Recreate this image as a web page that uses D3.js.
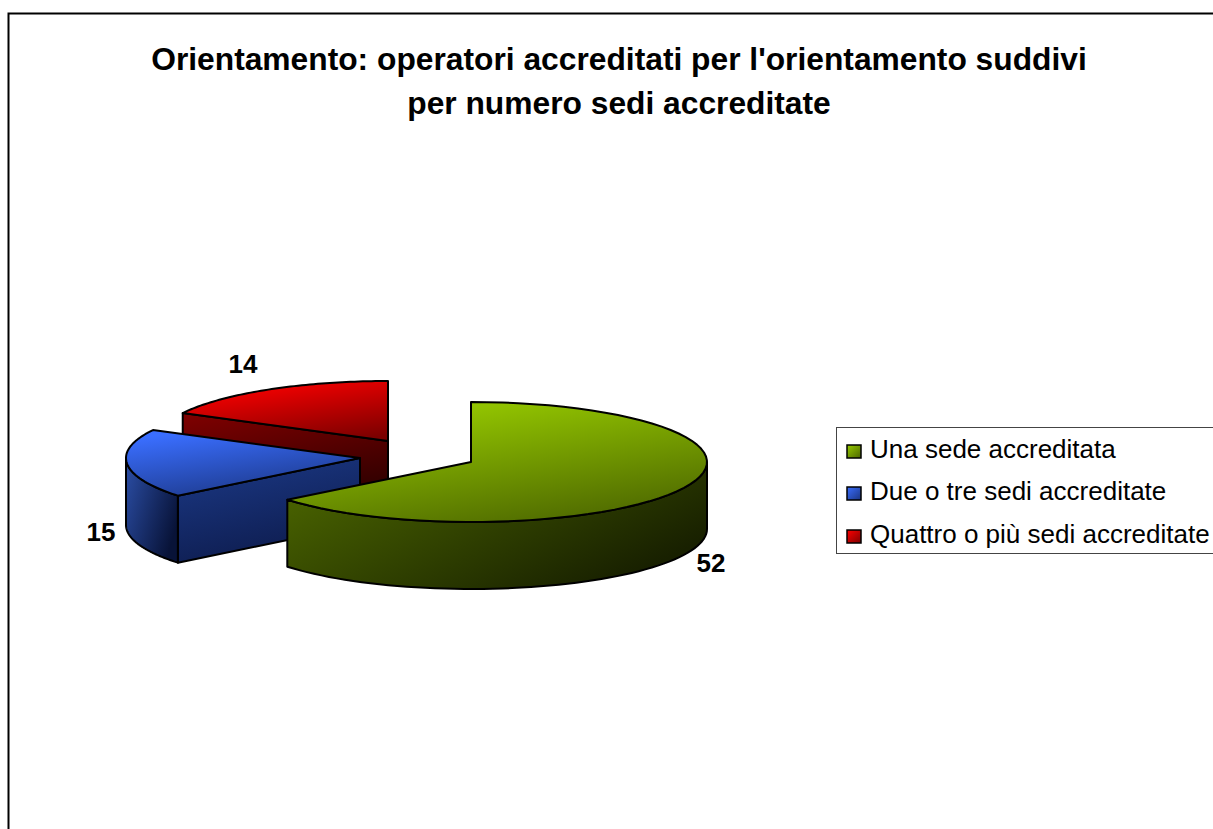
<!DOCTYPE html>
<html>
<head>
<meta charset="utf-8">
<script src="https://d3js.org/d3.v7.min.js"></script>
<style>
  html, body { margin: 0; background: #fff; overflow: hidden; }
  text { font-family: "Liberation Sans", Arial, sans-serif; fill: #000; }
</style>
</head>
<body>
<script>
const categories = ["Una sede accreditata", "Due o tre sedi accreditate", "Quattro o più sedi accreditate"];
const values = [52, 15, 14];
const titleLines = ["Orientamento: operatori accreditati per l'orientamento suddivi", "per numero sedi accreditate"];

const w = 1213;
const h = 829;
const ry = 60;
const depth = 67;

// slice apex on screen, the pie is exploded
const apexes = [[471, 462], [360, 458], [388, 441]];
const radii = [236, 234, 232];
const labelPos = [[711, 572], [101, 541], [243, 373]];
const legendY = [450, 492, 535];

const topColors = [["#98cc00", "#4c6600"], ["#3a6eff", "#1a3480"], ["#ff0000", "#7c0000"]];
const sideColors = [["#4f6b00", "#182000"], ["#2c4fa8", "#081338"], ["#800000", "#300000"]];
const flatColors = [null, ["#1c3a88", "#0e1d50"], ["#800000", "#300000"]];

const svg = d3.select("body").append("svg")
  .attr("width", w)
  .attr("height", h)
  .style("display", "block");

const defs = svg.append("defs");

const addGradient = (id, colors, x1, y1, x2, y2) => {
  const g = defs.append("linearGradient")
    .attr("id", id)
    .attr("x1", x1).attr("y1", y1)
    .attr("x2", x2).attr("y2", y2);
  g.append("stop").attr("offset", "0%").attr("stop-color", colors[0]);
  g.append("stop").attr("offset", "100%").attr("stop-color", colors[1]);
};

categories.forEach((c, i) => {
  addGradient("top" + i, topColors[i], 0.3, 0, 0.8, 1);
  addGradient("side" + i, sideColors[i], 0, 0, 1, 0.6);
  addGradient("swatch" + i, topColors[i], 0, 0, 1, 1);
  if (flatColors[i]) addGradient("flat" + i, flatColors[i], 0, 0, 0.4, 1);
});

// outer frame, runs off the right and bottom of the picture
svg.append("rect")
  .attr("x", 8.5).attr("y", 13.5)
  .attr("width", w + 20).attr("height", h + 20)
  .attr("fill", "#fff")
  .attr("stroke", "#000")
  .attr("stroke-width", 2);

svg.selectAll(".title")
  .data(titleLines)
  .enter()
  .append("text")
  .attr("class", "title")
  .attr("x", 619)
  .attr("y", (d, i) => 70 + i * 44)
  .attr("text-anchor", "middle")
  .attr("font-size", 31.75)
  .attr("font-weight", "bold")
  .text(d => d);

const pie = d3.pie().sort(null);
const arcs = pie(values);

const project = (i, a, drop) => [
  apexes[i][0] + radii[i] * Math.sin(a),
  apexes[i][1] - ry * Math.cos(a) + drop
];

const line = d3.line();

const sampleAngles = (a0, a1) => d3.range(0, 61).map(k => a0 + (a1 - a0) * k / 60);

const strokeFace = (sel) => sel.attr("stroke", "#000").attr("stroke-width", 2).attr("stroke-linejoin", "round");

// back to front, so the green slice covers the red and blue ones
[2, 1, 0].forEach(i => {
  const arc = arcs[i];
  const apex = apexes[i];
  const g = svg.append("g");

  // flat cut wall, only the one on the start edge faces the viewer
  if (flatColors[i]) {
    const edge = project(i, arc.startAngle, 0);
    const edgeLow = project(i, arc.startAngle, depth);
    const apexLow = [apex[0], apex[1] + depth];
    g.append("path")
      .attr("d", line([apex, edge, edgeLow, apexLow]) + "Z")
      .attr("fill", `url(#flat${i})`)
      .call(strokeFace);
  }

  // outer rim, only the part on the front half of the ellipse
  const rimStart = Math.max(arc.startAngle, Math.PI / 2);
  const rimEnd = Math.min(arc.endAngle, Math.PI * 1.5);
  if (rimEnd > rimStart) {
    const angles = sampleAngles(rimStart, rimEnd);
    const upper = angles.map(a => project(i, a, 0));
    const lower = angles.slice().reverse().map(a => project(i, a, depth));
    g.append("path")
      .attr("d", line(upper.concat(lower)) + "Z")
      .attr("fill", `url(#side${i})`)
      .call(strokeFace);
  }

  // top face
  const rim = sampleAngles(arc.startAngle, arc.endAngle).map(a => project(i, a, 0));
  g.append("path")
    .attr("d", line([apex].concat(rim)) + "Z")
    .attr("fill", `url(#top${i})`)
    .call(strokeFace);
});

svg.selectAll(".value")
  .data(values)
  .enter()
  .append("text")
  .attr("class", "value")
  .attr("x", (d, i) => labelPos[i][0])
  .attr("y", (d, i) => labelPos[i][1])
  .attr("text-anchor", "middle")
  .attr("font-size", 26)
  .attr("font-weight", "bold")
  .text(d => d);

// legend box also runs off the right side
svg.append("rect")
  .attr("x", 836.5).attr("y", 427.5)
  .attr("width", 400).attr("height", 126)
  .attr("fill", "#fff")
  .attr("stroke", "#444")
  .attr("stroke-width", 1);

svg.selectAll(".swatch")
  .data(categories)
  .enter()
  .append("rect")
  .attr("class", "swatch")
  .attr("x", 847)
  .attr("y", (d, i) => legendY[i] - 5)
  .attr("width", 14)
  .attr("height", 13)
  .attr("fill", (d, i) => `url(#swatch${i})`)
  .attr("stroke", "#000")
  .attr("stroke-width", 1.5);

svg.selectAll(".legend")
  .data(categories)
  .enter()
  .append("text")
  .attr("class", "legend")
  .attr("x", 870)
  .attr("y", (d, i) => legendY[i] + 8)
  .attr("font-size", 26)
  .text(d => d);
</script>
</body>
</html>
